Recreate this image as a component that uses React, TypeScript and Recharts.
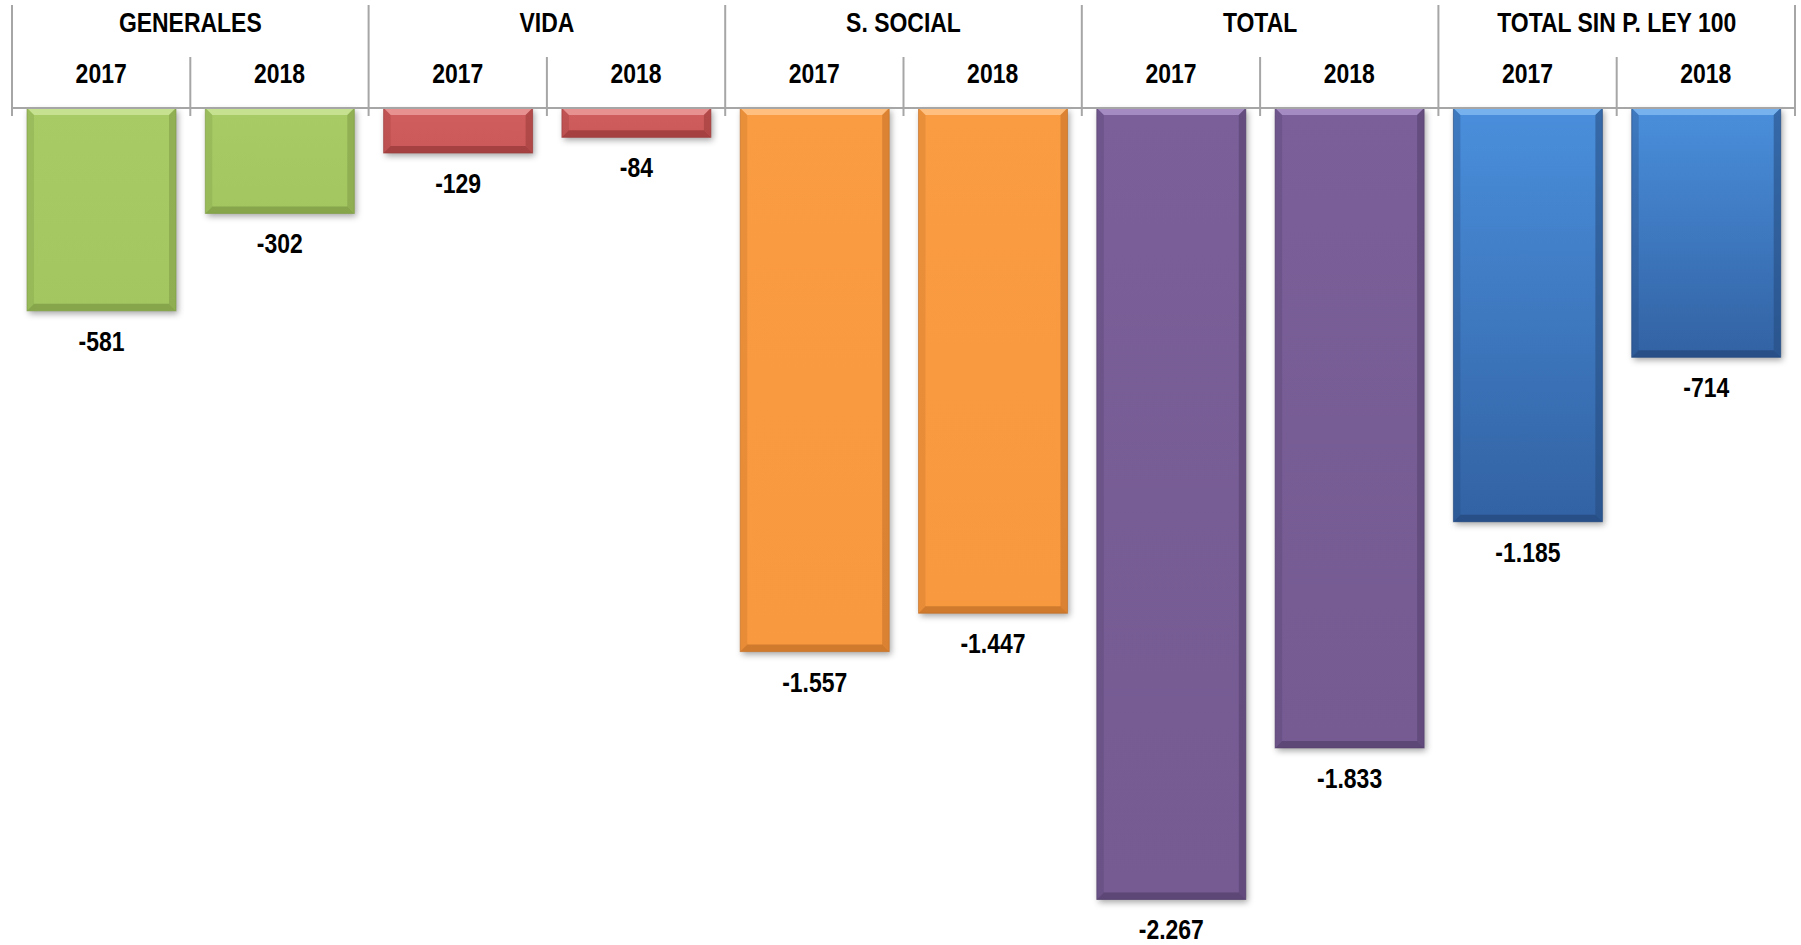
import React from "react";
import { Bar, BarChart, Cell, LabelList, XAxis, YAxis } from "recharts";

const groups = ["GENERALES", "VIDA", "S. SOCIAL", "TOTAL", "TOTAL SIN P. LEY 100"];
const years = ["2017", "2018"];
const values = [-581, -302, -129, -84, -1557, -1447, -2267, -1833, -1185, -714];

const palette = [
  { top: "#a8cb66", bottom: "#a3c661", light: "#cbe596", dark: "#7d9b45" },
  { top: "#d15e5e", bottom: "#cb5959", light: "#eb9a9a", dark: "#9a3a3a" },
  { top: "#fa9c42", bottom: "#f8983f", light: "#ffc68a", dark: "#c27028" },
  { top: "#7a5f98", bottom: "#755b92", light: "#ab93c8", dark: "#54406c" },
  { top: "#4a8fdc", bottom: "#3262a3", light: "#7fb8f2", dark: "#254a7e" },
];

const data = values.map((value, i) => ({
  group: groups[Math.floor(i / years.length)],
  year: years[i % years.length],
  gi: Math.floor(i / years.length),
  value,
}));

const W = 1801;
const H = 945;
const MARGIN = { top: 0, right: 6, bottom: 34, left: 12 };
const BAND = (W - MARGIN.left - MARGIN.right) / data.length;
const FONT = "'Liberation Sans Narrow', 'Arial Narrow', 'Liberation Sans', Arial, sans-serif";
const LINE = "#a6a6a6";

const fmt = (v: number) => {
  const s = String(Math.abs(v)).replace(/\B(?=(\d{3})+(?!\d))/g, ".");
  return (v < 0 ? "-" : "") + s;
};

// Arial Narrow is not installed, so squeeze a bold sans horizontally
function NarrowText({ x, y, children }: { x: number; y: number; children: React.ReactNode }) {
  return (
    <text
      transform={`translate(${x},${y}) scale(0.82,1)`}
      textAnchor="middle"
      fontFamily={FONT}
      fontWeight="bold"
      fontSize={28}
      fill="#000"
    >
      {children}
    </text>
  );
}

function YearTick(props: any) {
  const { x, y, payload, index } = props;
  const left = x - BAND / 2;
  const right = x + BAND / 2;
  const isGroupEdge = index % 2 === 0;
  const last = index === data.length - 1;
  return (
    <g>
      <line x1={left} x2={left} y1={isGroupEdge ? y - 103 : y - 51} y2={y + 8} stroke={LINE} strokeWidth={2} />
      {last && <line x1={right} x2={right} y1={y - 103} y2={y + 8} stroke={LINE} strokeWidth={2} />}
      <NarrowText x={x} y={y - 25}>{payload.value}</NarrowText>
    </g>
  );
}

function GroupTick(props: any) {
  const { x, y, payload, index } = props;
  if (index % 2 !== 0) return <g />;
  return <NarrowText x={x + BAND / 2} y={y - 26}>{payload.value}</NarrowText>;
}

function BevelBar(props: any) {
  const { x, y, width, height, index, payload } = props;
  const c = palette[payload.gi];
  const top = Math.min(y, y + height);
  const h = Math.abs(height);
  const L = x;
  const R = x + width;
  const T = top;
  const B = top + h;
  const b = Math.min(7, h / 2);
  const gid = `face-${index}`;
  const fid = `shadow-${index}`;
  return (
    <g>
      <defs>
        <linearGradient id={gid} x1="0" y1="0" x2="0" y2="1">
          <stop offset="0%" stopColor={c.top} />
          <stop offset="100%" stopColor={c.bottom} />
        </linearGradient>
        <filter id={fid} x="-10%" y="-10%" width="130%" height="130%">
          <feGaussianBlur stdDeviation="3" />
        </filter>
      </defs>
      <rect x={L + 2} y={T + 3} width={width} height={h} fill="rgba(0,0,0,0.35)" filter={`url(#${fid})`} />
      <rect x={L} y={T} width={width} height={h} fill={`url(#${gid})`} />
      <polygon points={`${L},${T} ${R},${T} ${R - b},${T + b} ${L + b},${T + b}`} fill={c.light} opacity={0.85} />
      <polygon points={`${L},${B} ${R},${B} ${R - b},${B - b} ${L + b},${B - b}`} fill={c.dark} opacity={0.75} />
      <polygon points={`${L},${T} ${L + b},${T + b} ${L + b},${B - b} ${L},${B}`} fill={c.dark} opacity={0.3} />
      <polygon points={`${R},${T} ${R - b},${T + b} ${R - b},${B - b} ${R},${B}`} fill={c.dark} opacity={0.55} />
      <rect x={L} y={T} width={width} height={h} fill="none" stroke={c.dark} strokeOpacity={0.6} strokeWidth={1} />
    </g>
  );
}

function ValueLabel(props: any) {
  const { x, y, width, height, value } = props;
  const bottom = Math.max(y, y + height);
  return <NarrowText x={x + width / 2} y={bottom + 40}>{fmt(value)}</NarrowText>;
}

export default function App() {
  return (
    <div style={{ position: "absolute", left: 0, top: 0, width: W, height: H, background: "#fff" }}>
      <BarChart width={W} height={H} data={data} margin={MARGIN} barSize={149}>
        <XAxis
          dataKey="year"
          orientation="top"
          height={50}
          interval={0}
          tickSize={0}
          tickMargin={0}
          tickLine={false}
          axisLine={{ stroke: LINE, strokeWidth: 2 }}
          tick={<YearTick />}
        />
        <XAxis
          xAxisId="grp"
          dataKey="group"
          orientation="top"
          height={58}
          interval={0}
          tickSize={0}
          tickMargin={0}
          tickLine={false}
          axisLine={false}
          tick={<GroupTick />}
        />
        <YAxis hide domain={[-2300, 0]} />
        <Bar dataKey="value" shape={<BevelBar />} isAnimationActive={false}>
          {data.map((d, i) => (
            <Cell key={i} fill={palette[d.gi].top} />
          ))}
          <LabelList dataKey="value" content={<ValueLabel />} />
        </Bar>
      </BarChart>
    </div>
  );
}
